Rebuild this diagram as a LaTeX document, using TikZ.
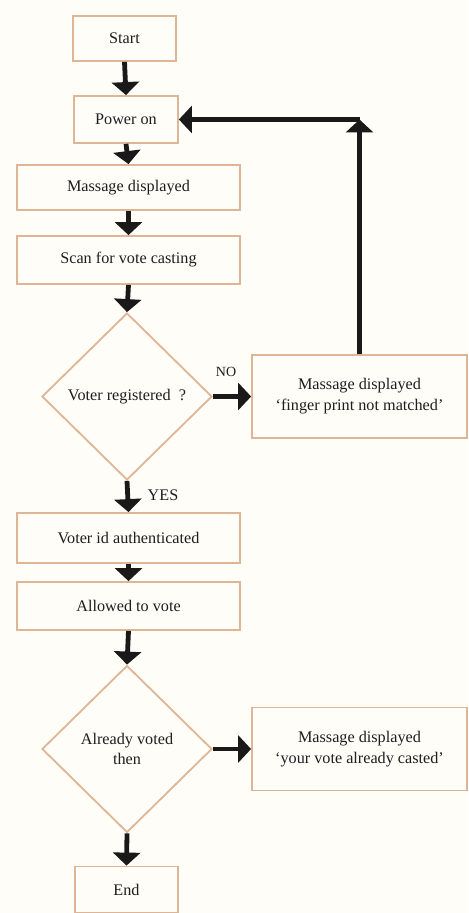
\documentclass[tikz,border=0pt]{standalone}
\usepackage{fontspec}
\setmainfont{Liberation Serif}
\usetikzlibrary{shapes.geometric,arrows.meta}
\definecolor{boxLine}{RGB}{222,182,150}
\definecolor{paper}{RGB}{254,253,248}
\definecolor{ink}{RGB}{30,30,30}
\begin{document}
\begin{tikzpicture} [x=0.5pt,y=-0.5pt,>={Triangle[width=13.5pt,length=6.5pt]},
	block/.style={shape=rectangle,draw=boxLine,line width=0.9pt,text=ink,font=\fontsize{8.1pt}{10.5pt}\selectfont,align=center,inner sep=0pt},
	decision/.style={shape=diamond,draw=boxLine,line width=0.9pt,minimum width=85pt,minimum height=83.5pt,inner sep=0pt,text=ink,font=\fontsize{8.1pt}{10pt}\selectfont,align=center},
	flow/.style={->,line width=2.4pt,black!90}]
	\fill[paper] (0,0) rectangle (468,913);
	\useasboundingbox (0,0) rectangle (468,913);

	\node (startNode) at (124.5,38.5)[block,minimum width=51.5pt,minimum height=22.5pt] {Start};
	\node (powerNode) at (126,119.5)[block,minimum width=52pt,minimum height=23.5pt] {Power on};
	\node (msgNode) at (128.5,187.5)[block,minimum width=111.5pt,minimum height=22.5pt] {Massage displayed};
	\node (scanNode) at (128.5,260)[block,minimum width=111.5pt,minimum height=24pt] {Scan for vote casting};
	\node (registeredNode) at (127,396.5)[decision] {Voter registered~ ?};
	\node (noMatchNode) at (359.5,396.5)[block,minimum width=107.5pt,minimum height=41.5pt] {Massage displayed\\`finger print not matched'};
	\node (authNode) at (128.5,538)[block,minimum width=111.5pt,minimum height=25pt] {Voter id authenticated};
	\node (allowedNode) at (128.5,606)[block,minimum width=111.5pt,minimum height=24pt] {Allowed to vote};
	\node (votedNode) at (127,749)[decision] {Already voted\\then};
	\node (castedNode) at (359.5,749)[block,minimum width=107.5pt,minimum height=41.5pt] {Massage displayed\\`your vote already casted'};
	\node (endNode) at (126.5,889.5)[block,minimum width=51.5pt,minimum height=23pt] {End};

	\draw[flow] (startNode.south) -- (powerNode.north);
	\draw[flow] (powerNode.south) -- (msgNode.north);
	\draw[flow] (msgNode.south) -- (scanNode.north);
	\draw[flow] (scanNode.south) -- (registeredNode.north);
	\draw[flow] (registeredNode.east) -- (noMatchNode.west);
	\draw[flow] (registeredNode.south) -- (authNode.north);
	\draw[flow] (authNode.south) -- (allowedNode.north);
	\draw[flow] (allowedNode.south) -- (votedNode.north);
	\draw[flow] (votedNode.east) -- (castedNode.west);
	\draw[flow] (votedNode.south) -- (endNode.north);

	% back to power on
	\coordinate (loopCorner) at (noMatchNode.north |- powerNode.east);
	\draw[flow] (noMatchNode.north) -- (loopCorner);
	\draw[flow] (loopCorner) -- (powerNode.east);

	\node (noLabel) at (226,372)[text=ink,font=\fontsize{7pt}{8pt}\selectfont] {NO};
	\node (yesLabel) at (163,495)[text=ink,font=\fontsize{8.1pt}{9pt}\selectfont] {YES};
\end{tikzpicture}
\end{document}
